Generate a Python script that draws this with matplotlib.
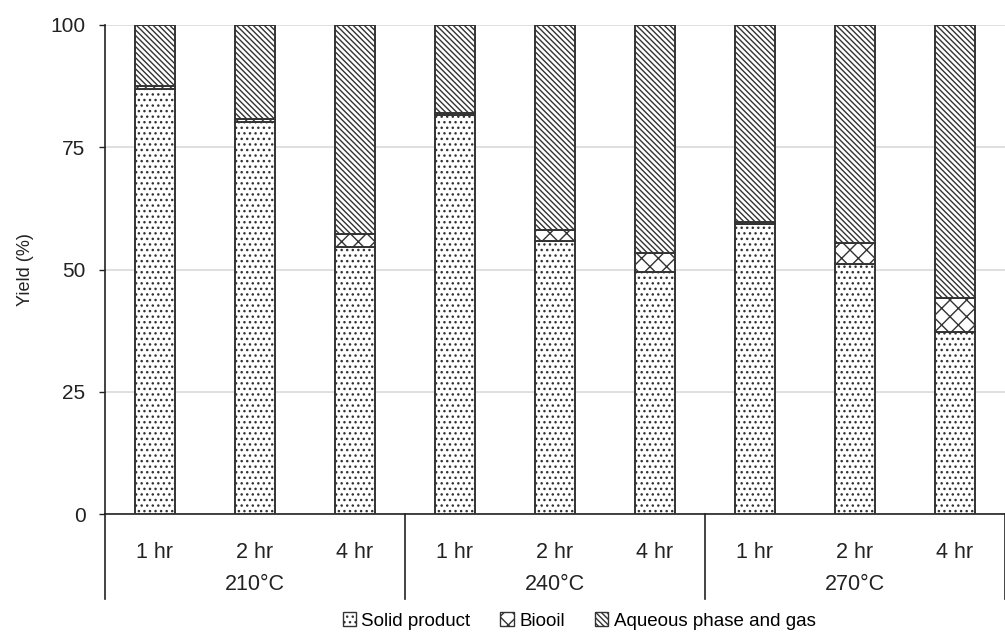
import matplotlib.pyplot as plt
import matplotlib.transforms as mtransforms
from matplotlib.lines import Line2D
from matplotlib.patches import Patch

# data (%)
temps = ['210°C', '240°C', '270°C']
times = ['1 hr', '2 hr', '4 hr']
solid = [87.0, 80.2, 54.6, 81.6, 55.8, 49.5, 59.3, 51.1, 37.2]
biooil = [0.6, 0.6, 2.6, 0.5, 2.2, 3.9, 0.5, 4.3, 7.0]
aqueous = [100 - s - b for s, b in zip(solid, biooil)]

plt.rcParams['font.family'] = ['Liberation Sans', 'DejaVu Sans']
plt.rcParams['hatch.linewidth'] = 1.0
plt.rcParams['hatch.color'] = '#222222'

fig = plt.figure(figsize=(10.05, 6.4), dpi=100)
ax = fig.add_axes([105 / 1005, 1 - 514 / 640, 900 / 1005, 489 / 640])

x = list(range(len(solid)))
edge = '#333333'
w = 0.4
h_solid, h_bio, h_aq = '...', 'xx', '\\' * 6
ax.bar(x, solid, w, color='white', edgecolor=edge, linewidth=1.4, hatch=h_solid, zorder=3)
ax.bar(x, biooil, w, bottom=solid, color='white', edgecolor=edge, linewidth=1.4, hatch=h_bio, zorder=3)
bot2 = [s + b for s, b in zip(solid, biooil)]
ax.bar(x, aqueous, w, bottom=bot2, color='white', edgecolor=edge, linewidth=1.4, hatch=h_aq, zorder=3)

ax.set_xlim(-0.5, 8.5)
ax.set_ylim(0, 100)
ax.set_yticks([0, 25, 50, 75, 100])
ax.tick_params(axis='y', labelsize=15, colors='#222222', length=4, width=1, pad=10)
ax.tick_params(axis='x', bottom=False, labelbottom=False)
ax.yaxis.grid(True, color='#d9d9d9', linewidth=1.2, zorder=0)
ax.set_axisbelow(True)
for s in ['top', 'right']:
    ax.spines[s].set_visible(False)
ax.spines['left'].set_color('#222222')
ax.spines['bottom'].set_color('#222222')
ax.spines['left'].set_linewidth(1.2)
ax.spines['bottom'].set_linewidth(1.2)
ax.set_ylabel('Yield (%)', fontsize=13, color='#222222', labelpad=12)

# two-level category axis
trans = mtransforms.blended_transform_factory(ax.transData, fig.transFigure)
for i, xi in enumerate(x):
    ax.text(xi, 1 - 553 / 640, times[i % 3], transform=trans, ha='center', va='center',
            fontsize=15.5, color='#222222')
for g, t in enumerate(temps):
    ax.text(g * 3 + 1, 1 - 584 / 640, t, transform=trans, ha='center', va='center',
            fontsize=15.5, color='#222222')
for xb in [-0.5, 2.5, 5.5, 8.5]:
    ax.add_line(Line2D([xb, xb], [1 - 514 / 640, 1 - 599 / 640], transform=trans,
                       color='#222222', linewidth=1.2, clip_on=False))

handles = [Patch(facecolor='white', edgecolor=edge, hatch=h_solid, label='Solid product'),
           Patch(facecolor='white', edgecolor=edge, hatch=h_bio, label='Biooil'),
           Patch(facecolor='white', edgecolor=edge, hatch=h_aq, label='Aqueous phase and gas')]
fig.legend(handles=handles, loc='center', bbox_to_anchor=(579 / 1005, 1 - 621 / 640), ncol=3,
           frameon=False, fontsize=13.5, handlelength=0.7, handleheight=0.7,
           handletextpad=0.3, columnspacing=1.6)

fig.savefig('out.png', dpi=100)
